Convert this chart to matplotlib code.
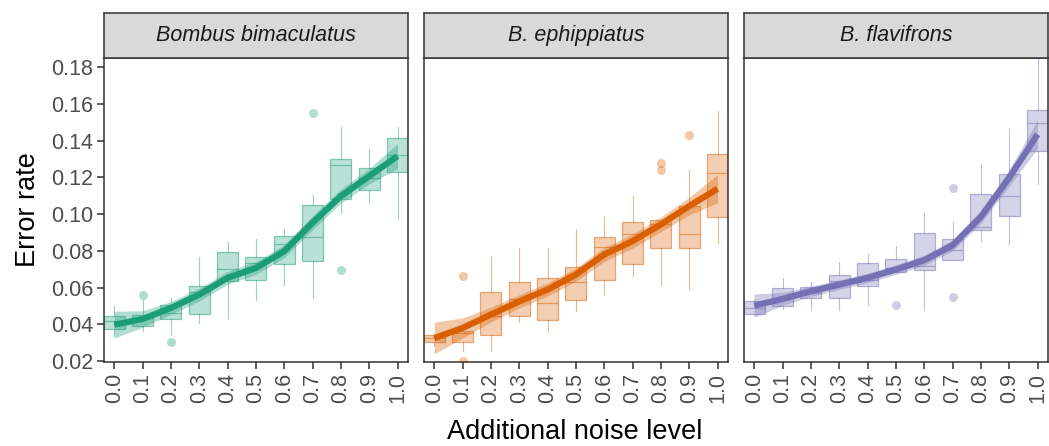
import numpy as np
import matplotlib
matplotlib.use("Agg")
from matplotlib import pyplot as plt

plt.rcParams['font.family'] = ['Liberation Sans', 'DejaVu Sans']

# noise levels (x positions of the boxes)
noise = [0.0, 0.1, 0.2, 0.3, 0.4, 0.5, 0.6, 0.7, 0.8, 0.9, 1.0]
species = ['Bombus bimaculatus', 'B. ephippiatus', 'B. flavifrons']
colors = ['#1b9e77', '#d95f02', '#7570b3']

# Bombus bimaculatus - box stats
bim_whislo = [0.0335, 0.0362, 0.0347, 0.0407, 0.0433, 0.0531, 0.0615, 0.0544, 0.1004, 0.1062, 0.0976]
bim_q1 = [0.0375, 0.0393, 0.0429, 0.0456, 0.0635, 0.0644, 0.0727, 0.0745, 0.1080, 0.1129, 0.1231]
bim_med = [0.0416, 0.0435, 0.0462, 0.0575, 0.0702, 0.0735, 0.0838, 0.0878, 0.1269, 0.1198, 0.1322]
bim_q3 = [0.0444, 0.0453, 0.0504, 0.0607, 0.0796, 0.0767, 0.0880, 0.1051, 0.1302, 0.1253, 0.1413]
bim_whishi = [0.0498, 0.0531, 0.0544, 0.0767, 0.0849, 0.0862, 0.0920, 0.1102, 0.1476, 0.1353, 0.1476]
bim_out = [[], [0.0558], [0.0305], [], [], [], [], [0.1549], [0.0698], [], []]
bim_fit = [0.0398, 0.0429, 0.0489, 0.0562, 0.0653, 0.0707, 0.0798, 0.0953, 0.1098, 0.1207, 0.1316]
bim_lo = [0.0325, 0.0384, 0.0454, 0.0527, 0.0618, 0.0672, 0.0763, 0.0915, 0.1060, 0.1165, 0.1248]
bim_hi = [0.0471, 0.0474, 0.0524, 0.0597, 0.0688, 0.0742, 0.0833, 0.0991, 0.1136, 0.1249, 0.1384]

# B. ephippiatus
eph_whislo = [0.0280, 0.0253, 0.0253, 0.0411, 0.0356, 0.0471, 0.0565, 0.0665, 0.0615, 0.0593, 0.0844]
eph_q1 = [0.0305, 0.0302, 0.0342, 0.0444, 0.0425, 0.0535, 0.0644, 0.0729, 0.0816, 0.0816, 0.0985]
eph_med = [0.0324, 0.0353, 0.0444, 0.0540, 0.0516, 0.0631, 0.0820, 0.0893, 0.0949, 0.0893, 0.1222]
eph_q3 = [0.0344, 0.0362, 0.0576, 0.0631, 0.0653, 0.0713, 0.0876, 0.0958, 0.0967, 0.1044, 0.1329]
eph_whishi = [0.0344, 0.0362, 0.0767, 0.0816, 0.0816, 0.0920, 0.0985, 0.1098, 0.0967, 0.1240, 0.1562]
eph_out = [[], [0.0665, 0.0198], [], [], [], [], [], [], [0.1280, 0.1240], [0.1433], []]
eph_fit = [0.0325, 0.0380, 0.0453, 0.0525, 0.0589, 0.0671, 0.0780, 0.0853, 0.0944, 0.1044, 0.1138]
eph_lo = [0.0239, 0.0325, 0.0413, 0.0489, 0.0553, 0.0635, 0.0742, 0.0815, 0.0904, 0.0996, 0.1061]
eph_hi = [0.0411, 0.0435, 0.0493, 0.0561, 0.0625, 0.0707, 0.0818, 0.0891, 0.0984, 0.1092, 0.1215]

# B. flavifrons
fla_whislo = [0.0450, 0.0484, 0.0480, 0.0480, 0.0505, 0.0684, 0.0480, 0.0749, 0.0853, 0.0835, 0.1162]
fla_q1 = [0.0458, 0.0498, 0.0544, 0.0544, 0.0607, 0.0684, 0.0698, 0.0749, 0.0916, 0.0989, 0.1345]
fla_med = [0.0489, 0.0544, 0.0571, 0.0635, 0.0644, 0.0707, 0.0720, 0.0807, 0.0929, 0.1096, 0.1498]
fla_q3 = [0.0525, 0.0596, 0.0604, 0.0667, 0.0733, 0.0756, 0.0900, 0.0865, 0.1107, 0.1216, 0.1569]
fla_whishi = [0.0530, 0.0653, 0.0631, 0.0742, 0.0785, 0.0829, 0.1004, 0.0958, 0.1265, 0.1462, 0.1880]
fla_out = [[], [], [], [], [], [0.0504], [], [0.1140, 0.0549], [], [], []]
fla_fit = [0.0502, 0.0538, 0.0580, 0.0616, 0.0653, 0.0698, 0.0749, 0.0830, 0.0985, 0.1198, 0.1434]
fla_lo = [0.0438, 0.0503, 0.0552, 0.0590, 0.0627, 0.0672, 0.0721, 0.0800, 0.0950, 0.1153, 0.1357]
fla_hi = [0.0566, 0.0573, 0.0608, 0.0642, 0.0679, 0.0724, 0.0777, 0.0860, 0.1020, 0.1243, 0.1511]

panels = [
    (bim_whislo, bim_q1, bim_med, bim_q3, bim_whishi, bim_out, bim_fit, bim_lo, bim_hi),
    (eph_whislo, eph_q1, eph_med, eph_q3, eph_whishi, eph_out, eph_fit, eph_lo, eph_hi),
    (fla_whislo, fla_q1, fla_med, fla_q3, fla_whishi, fla_out, fla_fit, fla_lo, fla_hi),
]

W, H = 1049, 446
fig = plt.figure(figsize=(W / 100, H / 100), dpi=100)

lefts = [104, 424, 744]
pw = 304
top, bot = 58, 362
strip_top = 13

tick_col = '#4d4d4d'
edge_col = '#333333'

for i in range(3):
    ax = fig.add_axes([lefts[i] / W, 1 - bot / H, pw / W, (bot - top) / H])
    wl, q1, med, q3, wh, outs, fit, lo, hi = panels[i]
    c = colors[i]
    stats = []
    for j in range(len(noise)):
        stats.append(dict(whislo=wl[j], q1=q1[j], med=med[j], q3=q3[j],
                          whishi=wh[j], fliers=outs[j]))
    ax.bxp(stats, positions=noise, widths=0.075, patch_artist=True,
           showcaps=False, manage_ticks=False,
           boxprops=dict(facecolor=matplotlib.colors.to_rgba(c, 0.3),
                         edgecolor=matplotlib.colors.to_rgba(c, 0.5), linewidth=0.9),
           medianprops=dict(color=c, alpha=0.5, linewidth=0.9),
           whiskerprops=dict(color=c, alpha=0.45, linewidth=0.8),
           flierprops=dict(marker='o', markerfacecolor=c, markeredgecolor='none',
                           alpha=0.35, markersize=6.5))
    # smoothed fit with its confidence band
    ax.fill_between(noise, lo, hi, color=c, alpha=0.35, linewidth=0, zorder=3)
    ax.plot(noise, fit, color=c, linewidth=4.5, solid_capstyle='butt',
            solid_joinstyle='round', zorder=4)

    ax.set_xlim(-0.036, 1.037)
    ax.set_ylim(0.0195, 0.185)
    ax.set_xticks(noise)
    ax.set_xticklabels(['%.1f' % v for v in noise], rotation=90)
    ax.set_yticks([0.02, 0.04, 0.06, 0.08, 0.10, 0.12, 0.14, 0.16, 0.18])
    ax.set_yticklabels(['0.02', '0.04', '0.06', '0.08', '0.10', '0.12', '0.14', '0.16', '0.18'])
    ax.tick_params(axis='both', direction='out', length=5, width=1.1, color=edge_col,
                   labelsize=15.5, labelcolor=tick_col, pad=3)
    if i > 0:
        ax.tick_params(axis='y', left=False, labelleft=False)
    for s in ax.spines.values():
        s.set_color(edge_col)
        s.set_linewidth(1.1)

    sax = fig.add_axes([lefts[i] / W, 1 - top / H, pw / W, (top - strip_top) / H])
    sax.set_facecolor('#d9d9d9')
    sax.set_xticks([])
    sax.set_yticks([])
    for s in sax.spines.values():
        s.set_color(edge_col)
        s.set_linewidth(1.1)
    sax.text(0.5, 0.5, species[i], transform=sax.transAxes, ha='center', va='center',
             fontsize=15.5, style='italic', color='#1a1a1a')

fig.text(28 / W, 1 - 210 / H, 'Error rate', rotation=90, ha='center', va='center',
         fontsize=19.5, color='black')
fig.text(575 / W, 1 - 432 / H, 'Additional noise level', ha='center', va='center',
         fontsize=19.5, color='black')

fig.savefig('out.png', dpi=100)
